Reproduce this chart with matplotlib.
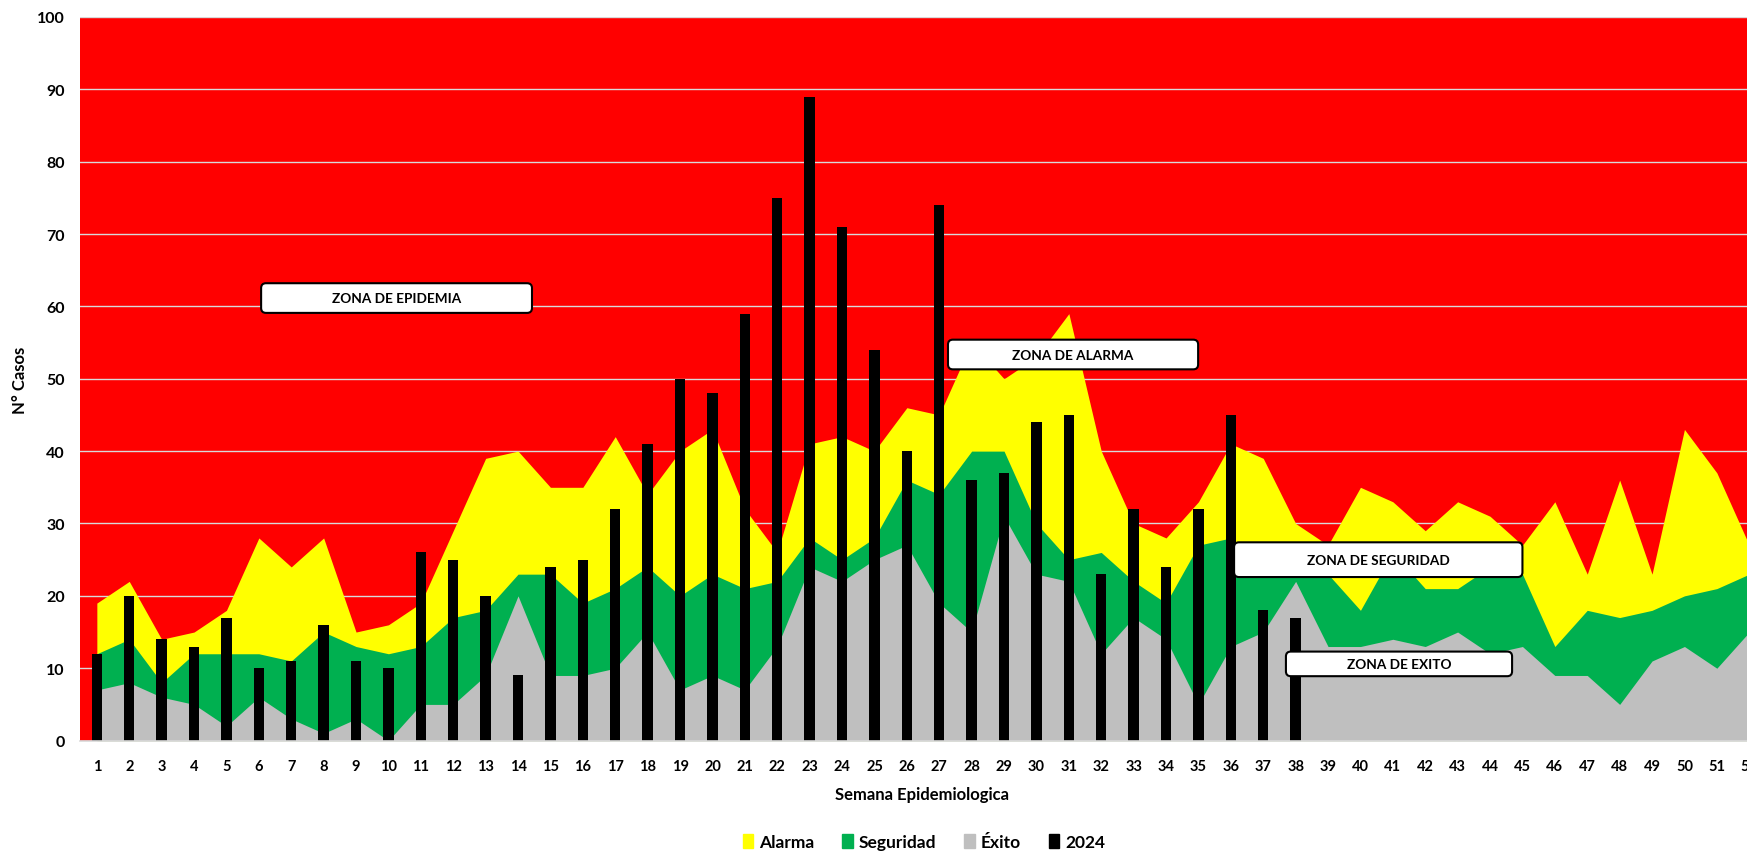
import matplotlib
matplotlib.use("Agg")
import matplotlib.pyplot as plt
from matplotlib.patches import FancyBboxPatch, Patch
import numpy as np

plt.rcParams['font.family'] = ['Lato', 'DejaVu Sans']

# ---------------- data ----------------
weeks = list(range(1, 53))
alarma = [19, 22, 14, 15, 18, 28, 24, 28, 15, 16,
          19, 29, 39, 40, 35, 35, 42, 34, 40, 43,
          32, 26, 41, 42, 40, 46, 45, 55, 50, 53,
          59, 40, 30, 28, 33, 41, 39, 30, 27, 35,
          33, 29, 33, 31, 27, 33, 23, 36, 23, 43,
          37, 27]
seguridad = [12, 14, 8, 12, 12, 12, 11, 15, 13, 12,
             13, 17, 18, 23, 23, 19, 21, 24, 20, 23,
             21, 22, 28, 25, 28, 36, 34, 40, 40, 30,
             25, 26, 22, 19, 27, 28, 24, 23, 23, 18,
             26, 21, 21, 24, 23, 13, 18, 17, 18, 20,
             21, 23]
exito = [7, 8, 6, 5, 2, 6, 3, 1, 3, 0,
         5, 5, 9, 20, 9, 9, 10, 15, 7, 9,
         7, 13, 24, 22, 25, 27, 19, 15, 31, 23,
         22, 12, 17, 14, 5, 13, 15, 22, 13, 13,
         14, 13, 15, 12, 13, 9, 9, 5, 11, 13,
         10, 15]
casos_2024 = [12, 20, 14, 13, 17, 10, 11, 16, 11, 10,
              26, 25, 20, 9, 24, 25, 32, 41, 50, 48,
              59, 75, 89, 71, 54, 40, 74, 36, 37, 44,
              45, 23, 32, 24, 32, 45, 18, 17]
weeks_2024 = weeks[:len(casos_2024)]

series_labels = ["Alarma", "Seguridad", "Éxito", "2024"]
zone_labels = ["ZONA DE EPIDEMIA", "ZONA DE ALARMA", "ZONA DE SEGURIDAD", "ZONA DE EXITO"]

C_RED = "#FF0000"
C_YEL = "#FFFF00"
C_GRN = "#00B050"
C_GRY = "#BFBFBF"

# ---------------- figure ----------------
W, H = 1747, 854
fig = plt.figure(figsize=(W / 100, H / 100), dpi=100)
px_per_unit = 32.4
x0, x1 = 0.48, 53.0
ax_left = 80 / W
ax_w = (x1 - x0) * px_per_unit / W
ax_bottom = (H - 741.6) / H
ax_h = (741.6 - 17.9) / H
ax = fig.add_axes([ax_left, ax_bottom, ax_w, ax_h])

ax.set_facecolor(C_RED)
ax.set_xlim(x0, x1)
ax.set_ylim(0, 100)

ax.fill_between(weeks, 0, alarma, color=C_YEL, lw=0, zorder=2)
ax.fill_between(weeks, 0, seguridad, color=C_GRN, lw=0, zorder=2.1)
ax.fill_between(weeks, 0, exito, color=C_GRY, lw=0, zorder=2.2)
ax.bar(weeks_2024, casos_2024, width=0.32, color="black", zorder=3)

ax.set_axisbelow(True)
ax.yaxis.grid(True, color="#D9D9D9", lw=1.0)
ax.set_yticks(range(0, 101, 10))
ax.set_xticks(weeks)
ax.set_xticklabels([str(w) for w in weeks])
ax.tick_params(axis="both", length=0)
ax.tick_params(axis="y", pad=11, labelsize=11.5)
ax.tick_params(axis="x", pad=13, labelsize=10.5)
for lab in ax.get_xticklabels() + ax.get_yticklabels():
    lab.set_fontweight("bold")
for s in ["left", "right", "top"]:
    ax.spines[s].set_visible(False)
ax.spines["bottom"].set_color("#D9D9D9")
ax.spines["bottom"].set_linewidth(1.2)
ax.spines["bottom"].set_zorder(4)

# zone boxes (x in weeks, y in cases)
boxes = [
    (6.07, 14.43, 59.1, 63.2),
    (27.27, 34.99, 51.3, 55.4),
    (36.1, 45.0, 22.6, 27.4),
    (37.7, 44.68, 8.9, 12.3),
]
aspect = px_per_unit / (ax_h * H / 100.0)
for (bx0, bx1, by0, by1), txt in zip(boxes, zone_labels):
    p = FancyBboxPatch((bx0, by0), bx1 - bx0, by1 - by0,
                       boxstyle="round,pad=0,rounding_size=0.15",
                       mutation_aspect=aspect,
                       fc="white", ec="black", lw=1.5, zorder=6)
    ax.add_patch(p)
    ax.text((bx0 + bx1) / 2, (by0 + by1) / 2, txt, ha="center", va="center",
            fontsize=9.8, fontweight="bold", zorder=7)

fig.text(20 / W, 1 - 380 / H, "N° Casos", rotation=90, ha="center", va="center",
         fontsize=12, fontweight="bold")
fig.text(922 / W, 1 - 795 / H, "Semana Epidemiologica", ha="center", va="center",
         fontsize=12, fontweight="bold")

handles = [Patch(color=C_YEL), Patch(color=C_GRN), Patch(color=C_GRY), Patch(color="black")]
leg = fig.legend(handles, series_labels, loc="center", bbox_to_anchor=(924 / W, 1 - 843 / H),
                 ncol=4, frameon=False, handlelength=0.6, handleheight=0.9,
                 handletextpad=0.35, columnspacing=1.6,
                 prop={"weight": "bold", "size": 12.5})

fig.savefig("out.png", dpi=100)
